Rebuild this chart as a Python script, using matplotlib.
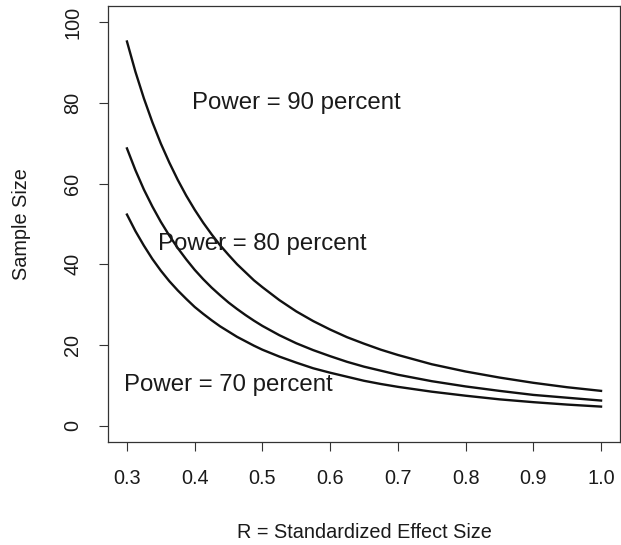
#!/usr/bin/env python3

import matplotlib.pyplot as plt

# effect size R and sample sizes
effect_size = [0.3, 0.3125, 0.325, 0.3375, 0.35, 0.3625, 0.375, 0.3875,
               0.4, 0.4125, 0.425, 0.4375, 0.45, 0.4625, 0.475, 0.4875,
               0.5, 0.525, 0.55, 0.575, 0.6, 0.625, 0.65, 0.675,
               0.7, 0.75, 0.8, 0.85, 0.9, 0.95, 1.0]
n_power90 = [95.2, 87.7, 81.1, 75.2, 69.9, 65.2, 60.9, 57.0,
             53.5, 50.3, 47.4, 44.7, 42.3, 40.0, 38.0, 36.0,
             34.3, 31.1, 28.3, 25.9, 23.8, 21.9, 20.3, 18.8,
             17.5, 15.2, 13.4, 11.9, 10.6, 9.5, 8.6]
n_power80 = [68.7, 63.3, 58.5, 54.3, 50.5, 47.1, 44.0, 41.2,
             38.6, 36.3, 34.2, 32.3, 30.5, 28.9, 27.4, 26.0,
             24.7, 22.4, 20.4, 18.7, 17.2, 15.8, 14.6, 13.6,
             12.6, 11.0, 9.7, 8.6, 7.6, 6.9, 6.2]
n_power70 = [52.3, 48.2, 44.6, 41.3, 38.4, 35.8, 33.5, 31.4,
             29.4, 27.7, 26.1, 24.6, 23.3, 22.0, 20.9, 19.8,
             18.8, 17.1, 15.6, 14.2, 13.1, 12.1, 11.1, 10.3,
             9.6, 8.4, 7.4, 6.5, 5.8, 5.2, 4.7]

labels = ["Power = 90 percent", "Power = 80 percent", "Power = 70 percent"]
label_x = [0.55, 0.50, 0.45]
label_y = [80, 45, 10]

x_ticks = [0.3, 0.4, 0.5, 0.6, 0.7, 0.8, 0.9, 1.0]
y_ticks = [0, 20, 40, 60, 80, 100]

plt.rcParams["font.family"] = ["Liberation Sans", "DejaVu Sans"]

fig = plt.figure(figsize=(6.21, 5.45), dpi=100)
ax = fig.add_axes([108 / 621, 1 - 441.7 / 545, 512 / 621, 435.7 / 545])

for n in (n_power90, n_power80, n_power70):
    ax.plot(effect_size, n, color="#111111", lw=1.7, solid_joinstyle="round")

for txt, x, y in zip(labels, label_x, label_y):
    ax.text(x, y, txt, ha="center", va="center", fontsize=17.3, color="#1a1a1a")

ax.set_xlim(0.272, 1.028)
ax.set_ylim(-4, 104)
ax.set_xticks(x_ticks)
ax.set_xticklabels([f"{t:.1f}" for t in x_ticks])
ax.set_yticks(y_ticks)
ax.set_yticklabels([str(t) for t in y_ticks], rotation=90, va="center")
ax.tick_params(direction="out", length=6.5, width=0.8, labelsize=14.3,
               colors="#333333", labelcolor="#1a1a1a")
ax.tick_params(axis="x", pad=13)
ax.tick_params(axis="y", pad=12)
for sp in ax.spines.values():
    sp.set_linewidth(0.9)
    sp.set_color("#333333")

fig.text(364 / 621, 1 - 532 / 545, "R = Standardized Effect Size",
         ha="center", va="center", fontsize=14.3, color="#1a1a1a")
fig.text(22 / 621, 1 - 224 / 545, "Sample Size", rotation=90,
         ha="center", va="center", fontsize=14.3, color="#1a1a1a")

fig.savefig("out.png", dpi=100)
